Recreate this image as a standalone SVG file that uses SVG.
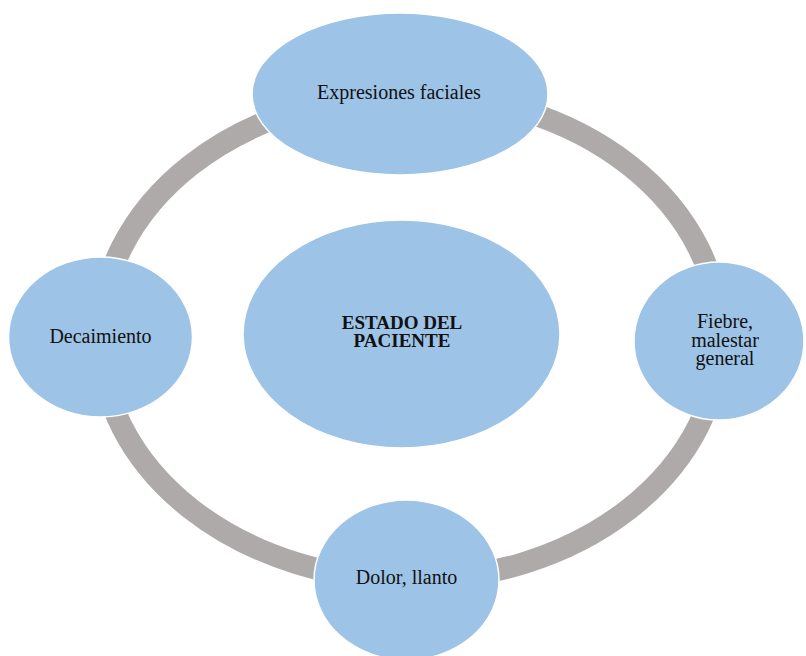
<svg xmlns="http://www.w3.org/2000/svg" width="806" height="656" viewBox="0 0 806 656">
<style>
.node{fill:#9DC3E6;stroke:#FFFFFF;stroke-width:1.5}
.ring{fill:none;stroke:#AEAAAA;stroke-width:22}
.t{font-family:"Liberation Serif","Times New Roman",serif;font-size:20px;fill:#111;text-anchor:middle}
.b{font-weight:bold;font-size:19px}
</style>
<rect width="806" height="656" fill="#FFFFFF"/>
<g id="connectors">
<ellipse class="ring" cx="410" cy="337" rx="310" ry="243"/>
</g>
<g id="node-top">
<ellipse class="node" cx="400" cy="94" rx="148" ry="81"/>
<text class="t" x="399" y="99">Expresiones faciales</text>
</g>
<g id="node-right">
<ellipse class="node" cx="719" cy="341" rx="85" ry="79"/>
<text class="t" x="725" y="328">Fiebre,</text>
<text class="t" x="725" y="347">malestar</text>
<text class="t" x="725" y="365">general</text>
</g>
<g id="node-bottom">
<ellipse class="node" cx="406.5" cy="580" rx="92.5" ry="80"/>
<text class="t" x="406.5" y="584">Dolor, llanto</text>
</g>
<g id="node-left">
<ellipse class="node" cx="100.5" cy="337" rx="92" ry="80"/>
<text class="t" x="100.5" y="343">Decaimiento</text>
</g>
<g id="node-center">
<ellipse class="node" cx="401.5" cy="334" rx="158.5" ry="114"/>
<text class="t b" x="402" y="329">ESTADO DEL</text>
<text class="t b" x="402" y="347">PACIENTE</text>
</g>
</svg>
